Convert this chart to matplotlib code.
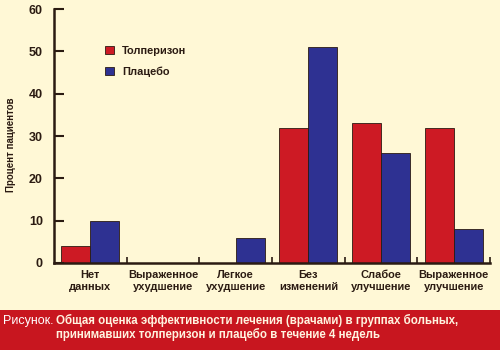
import matplotlib
matplotlib.use("Agg")
import matplotlib.pyplot as plt
from matplotlib.patches import Rectangle
import numpy as np

categories = ["Нет\nданных", "Выраженное\nухудшение", "Легкое\nухудшение",
              "Без\nизменений", "Слабое\nулучшение", "Выраженное\nулучшение"]
tolperisone = [4, 0, 0, 32, 33, 32]
placebo = [10, 0, 6, 51, 26, 8]
series_names = ["Толперизон", "Плацебо"]
yticks = [0, 10, 20, 30, 40, 50, 60]
ylabel = "Процент пациентов"
caption_prefix = "Рисунок."
caption_line1 = "Общая оценка эффективности лечения (врачами) в группах больных,"
caption_line2 = "принимавших толперизон и плацебо в течение 4 недель"

BG = "#FFF8D6"
RED = "#CD1A24"
BLUE = "#2E3192"
DARK = "#2B1B12"
BAND = "#C8161F"
FONT = ["Liberation Sans Narrow", "Liberation Sans", "DejaVu Sans"]

plt.rcParams["font.family"] = FONT

fig = plt.figure(figsize=(5, 3.5), dpi=100, facecolor=BG)
ax = fig.add_axes([0.108, 0.2486, 0.872, 0.7254])
ax.set_facecolor(BG)

x = np.arange(len(categories))
w = 0.4
ax.bar(x - w / 2, tolperisone, w, color=RED, edgecolor=DARK, linewidth=0.6, label=series_names[0])
ax.bar(x + w / 2, placebo, w, color=BLUE, edgecolor=DARK, linewidth=0.6, label=series_names[1])

ax.set_xlim(-0.5, len(categories) - 0.5)
ax.set_ylim(0, 60)
ax.set_yticks(yticks)
ax.set_yticklabels([str(v) for v in yticks], fontsize=9, fontweight="bold", color=DARK)
ax.tick_params(axis="y", direction="in", length=7.5, width=1.5, color=DARK, pad=8)

ax.set_xticks(np.arange(len(categories)) + 0.5)
ax.set_xticklabels([])
ax.tick_params(axis="x", which="major", direction="in", length=4, width=1.2, color=DARK)
ax.set_xticks(x, minor=True)
ax.set_xticklabels(categories, minor=True, fontsize=7.9, fontweight="bold", color=DARK,
                   linespacing=1.3)
ax.tick_params(axis="x", which="minor", length=0, pad=5)

for s in ["top", "right"]:
    ax.spines[s].set_visible(False)
for s in ["left", "bottom"]:
    ax.spines[s].set_linewidth(1.8)
    ax.spines[s].set_color(DARK)

fig.text(0.022, 0.585, ylabel, rotation=90, ha="center", va="center",
         fontsize=7, fontweight="bold", color=DARK)

leg = ax.legend(loc="upper left", bbox_to_anchor=(0.095, 0.895), frameon=False,
                prop={"size": 7.9, "weight": "bold"}, handlelength=0.75, handleheight=0.75,
                handletextpad=0.8, labelspacing=1.0, labelcolor=DARK)

fig.patches.append(Rectangle((0, 0), 1, 40 / 350, transform=fig.transFigure,
                             facecolor=BAND, edgecolor="none", zorder=0))
fig.text(0.006, 0.0743, caption_prefix, ha="left", va="baseline", fontsize=9,
         color="white")
fig.text(0.112, 0.0743, caption_line1, ha="left", va="baseline", fontsize=8.3,
         fontweight="bold", color="#FFF4E0")
fig.text(0.112, 0.0343, caption_line2, ha="left", va="baseline", fontsize=8.3,
         fontweight="bold", color="#FFF4E0")

fig.savefig("out.png", dpi=100, facecolor=BG)
